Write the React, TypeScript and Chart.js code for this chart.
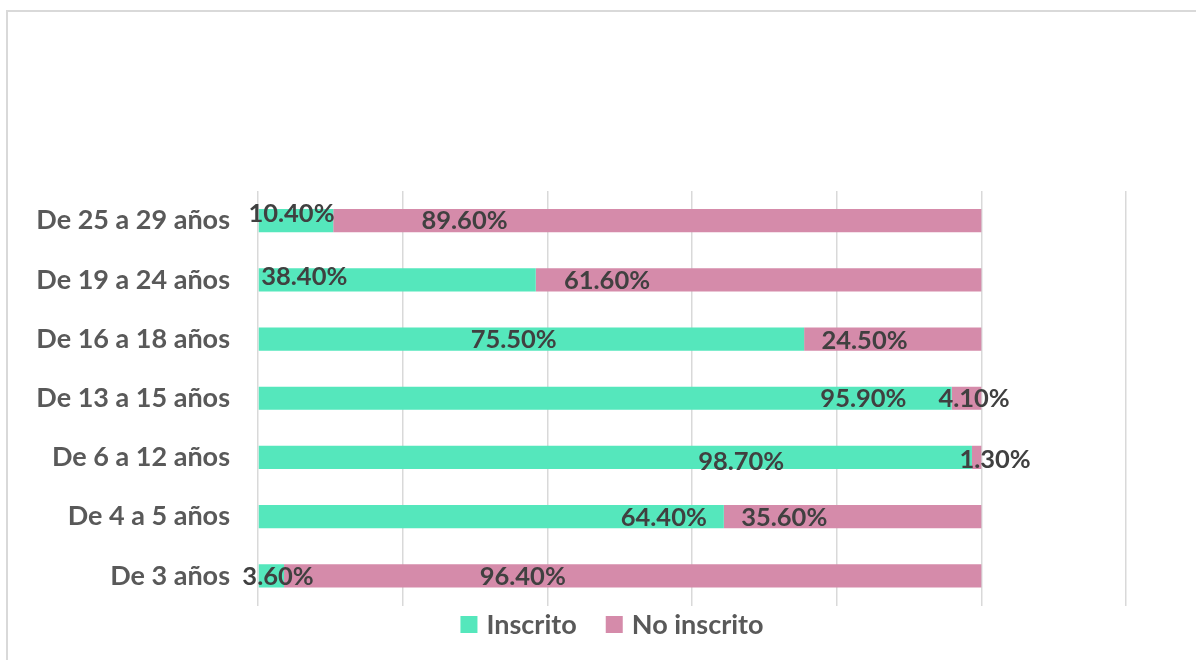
import React, { useEffect, useRef } from "react";
import { Chart, registerables } from "chart.js";

Chart.register(...registerables);

const categories = [
  "De 25 a 29 años",
  "De 19 a 24 años",
  "De 16 a 18 años",
  "De 13 a 15 años",
  "De 6 a 12 años",
  "De 4 a 5 años",
  "De 3 años",
];
const seriesNames = ["Inscrito", "No inscrito"];
const inscrito = [10.4, 38.4, 75.5, 95.9, 98.7, 64.4, 3.6];
const noInscrito = [89.6, 61.6, 24.5, 4.1, 1.3, 35.6, 96.4];
const xMax = 120;
const xStep = 20;

// where each data label sits, in axis units (as placed in the original)
const inscritoLabelAt = [4.63, 6.4, 35.35, 83.7, 66.8, 56.1, 2.77];
const noInscritoLabelAt = [28.55, 48.25, 83.85, 99.0, 101.9, 72.75, 36.6];
const inscritoLabelDy = [-8, -3.5, 0, 0, 3.5, 0, 0];
const noInscritoLabelDy = [-1, 0, 0.5, 0, 1.5, 0, 0];

const FONT = 'Lato, "Open Sans", sans-serif';
const GREEN = "#55E7BC";
const PINK = "#D58BAA";

const labelPlugin = {
  id: "manualLabels",
  afterDatasetsDraw(chart: any) {
    const ctx = chart.ctx;
    const xs = chart.scales.x;
    const anchors = [inscritoLabelAt, noInscritoLabelAt];
    const dys = [inscritoLabelDy, noInscritoLabelDy];
    ctx.save();
    ctx.font = `bold 25.5px ${FONT}`;
    ctx.fillStyle = "#404040";
    ctx.textAlign = "center";
    ctx.textBaseline = "alphabetic";
    chart.data.datasets.forEach((ds: any, i: number) => {
      const meta = chart.getDatasetMeta(i);
      meta.data.forEach((bar: any, j: number) => {
        const v = ds.data[j];
        const x = xs.getPixelForValue(anchors[i][j]);
        const y = bar.y + dys[i][j] + 9;
        ctx.fillText(`${v.toFixed(2)}%`, x, y);
      });
    });
    ctx.restore();
  },
};

// legend drawn below the plot, centred like the original
const legendPlugin = {
  id: "customLegend",
  afterDraw(chart: any) {
    const ctx = chart.ctx;
    const box = 17;
    const gap = 9;
    const itemGap = 29;
    ctx.save();
    ctx.font = `bold 27px ${FONT}`;
    const items = chart.data.datasets.map((ds: any) => ({
      text: ds.label,
      color: ds.backgroundColor,
      w: ctx.measureText(ds.label).width,
    }));
    const total =
      items.reduce((s: number, it: any) => s + box + gap + it.w, 0) + itemGap * (items.length - 1);
    const cx = (chart.chartArea.left + chart.chartArea.right) / 2 - 80;
    const cy = chart.chartArea.bottom + 19;
    let x = cx - total / 2;
    ctx.textBaseline = "alphabetic";
    ctx.textAlign = "left";
    items.forEach((it: any) => {
      ctx.fillStyle = it.color;
      ctx.fillRect(x, cy - box / 2, box, box);
      x += box + gap;
      ctx.fillStyle = "#595959";
      ctx.fillText(it.text, x, cy + 9.5);
      x += it.w + itemGap;
    });
    ctx.restore();
  },
};

export default function App() {
  const ref = useRef<HTMLCanvasElement | null>(null);
  useEffect(() => {
    if (!ref.current) return;
    const chart = new Chart(ref.current, {
      type: "bar",
      data: {
        labels: categories,
        datasets: [
          { label: seriesNames[0], data: inscrito, backgroundColor: GREEN, borderWidth: 0 },
          { label: seriesNames[1], data: noInscrito, backgroundColor: PINK, borderWidth: 0 },
        ],
      },
      options: {
        indexAxis: "y",
        animation: false,
        responsive: false,
        maintainAspectRatio: false,
        layout: { padding: { top: 191, left: 20, right: 70, bottom: 54.5 } },
        datasets: { bar: { categoryPercentage: 0.8, barPercentage: 0.49 } },
        scales: {
          x: {
            stacked: true,
            min: 0,
            max: xMax,
            ticks: { display: false, stepSize: xStep },
            grid: { color: "#D9D9D9", lineWidth: 1.5, drawTicks: false },
            border: { display: false },
          },
          y: {
            stacked: true,
            grid: { display: false, drawTicks: false },
            border: { display: false },
            ticks: {
              color: "#595959",
              padding: 28,
              font: { family: FONT, size: 27, weight: "bold" },
            },
            afterFit(scale: any) {
              scale.width = 238;
            },
          },
        },
        plugins: {
          legend: { display: false },
          tooltip: { enabled: false },
        },
      },
      plugins: [labelPlugin, legendPlugin],
    } as any);
    return () => chart.destroy();
  }, []);

  return (
    <div style={{ position: "fixed", left: 0, top: 0, width: 1196, height: 660, overflow: "hidden", background: "#fff" }}>
      <div
        style={{
          position: "absolute",
          left: 6,
          top: 10,
          width: 1300,
          height: 700,
          border: "2px solid #D9D9D9",
          boxSizing: "border-box",
        }}
      />
      <canvas ref={ref} width={1196} height={660} style={{ position: "absolute", left: 0, top: 0 }} />
    </div>
  );
}
